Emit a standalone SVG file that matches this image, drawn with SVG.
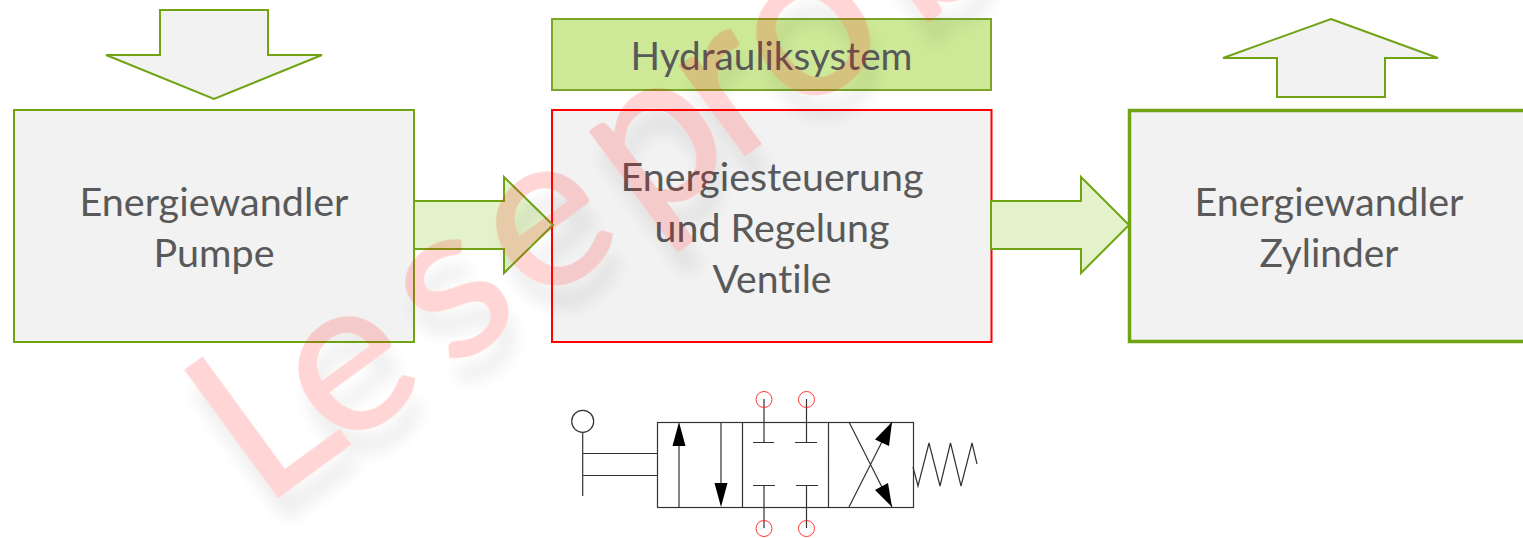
<svg xmlns="http://www.w3.org/2000/svg" width="1523" height="538" viewBox="0 0 1523 538">
<style>
.box{fill:#f2f2f2;stroke:#70a414;stroke-width:2}
.arrow{fill:#f2f2f2;stroke:#70a414;stroke-width:2}
.flow{fill:#e3f2c9;stroke:#70a414;stroke-width:2}
.t{font-family:Lato,"Open Sans","Liberation Sans",sans-serif;font-size:38px;fill:#595959;text-anchor:middle;font-variant-ligatures:none}
.l{fill:none;stroke:#333;stroke-width:1.2}
.p{fill:none;stroke:#f33;stroke-width:1}
.h{fill:#000}
</style>
<defs><filter id="sh" x="-10%" y="-30%" width="120%" height="170%"><feDropShadow dx="-8" dy="24" stdDeviation="8" flood-color="#000" flood-opacity=".4"/></filter></defs>
<g id="input-arrow"><polygon class="arrow" points="160,10 268,10 268,55 322,55 214,99 106,55 160,55"/></g>
<g id="output-arrow"><polygon class="arrow" points="1331,19 1438,58 1385,58 1385,97 1277,97 1277,58 1223,58"/></g>
<g id="pumpe"><rect class="box" x="14" y="110" width="400" height="232"/>
<text class="t" x="214" y="216" textLength="269" lengthAdjust="spacingAndGlyphs">Energiewandler</text>
<text class="t" x="214" y="267" textLength="121" lengthAdjust="spacingAndGlyphs">Pumpe</text></g>
<g id="hydrauliksystem"><rect x="552" y="19" width="439" height="71" fill="#cde997" stroke="#7aa62a" stroke-width="2"/>
<text class="t" x="771.500" y="70" textLength="282" lengthAdjust="spacingAndGlyphs">Hydrauliksystem</text></g>
<g id="ventile"><rect x="552" y="110" width="439.500" height="232" fill="#f2f2f2" stroke="#f00" stroke-width="2"/>
<text class="t" x="772" y="191" textLength="303" lengthAdjust="spacingAndGlyphs">Energiesteuerung</text>
<text class="t" x="772" y="242" textLength="235" lengthAdjust="spacingAndGlyphs">und Regelung</text>
<text class="t" x="772" y="293" textLength="119" lengthAdjust="spacingAndGlyphs">Ventile</text></g>
<g id="zylinder"><rect x="1129.500" y="110.500" width="400" height="231" fill="#f2f2f2" stroke="#70a414" stroke-width="3.500"/>
<text class="t" x="1329" y="216" textLength="269" lengthAdjust="spacingAndGlyphs">Energiewandler</text>
<text class="t" x="1329" y="267" textLength="139" lengthAdjust="spacingAndGlyphs">Zylinder</text></g>
<g id="connectors">
<polygon class="flow" points="414,201 504,201 504,177 553,225 504,273 504,249 414,249"/>
<polygon class="flow" points="991,201 1081,201 1081,177 1129,225 1081,273 1081,249 991,249"/>
</g>
<g id="valve">
<rect class="l" x="657.500" y="422.500" width="256" height="85"/>
<path class="l" d="M742.500 422V507M828.500 422V507M679 446V507M721 422V483M764 399V442M753 442.500H774M806.500 399V442M795 442.500H817M764 486V528M753 485.500H775M806.500 486V528M796 485.500H818M849 422L892 507M849 507L892 422"/>
<polygon class="h" points="679,422 672.500,446 685.500,446"/>
<polygon class="h" points="721,507 714.500,483 727.500,483"/>
<polygon class="h" points="892,422 875,439.500 889,446"/>
<polygon class="h" points="892,507 875,490 888,483"/>
<polyline class="l" stroke-width="1" points="913,467 918,486 929,443 940,486 950.500,443 961,486 972,443 977,464"/>
<circle class="l" cx="582.700" cy="421.300" r="11"/>
<path class="l" d="M582.700 432V496M583 453.500H657M583 475.500H657"/>
<circle class="p" cx="764" cy="399.500" r="8"/><circle class="p" cx="806.500" cy="399.500" r="8"/>
<circle class="p" cx="764" cy="528.500" r="8"/><circle class="p" cx="806.500" cy="528.500" r="8"/>
</g>
<text transform="translate(262 509) rotate(-36.200)" x="0 94 234 339 472 583 661 810" y="0" opacity=".16" filter="url(#sh)" font-family="Lato,'Open Sans',sans-serif" font-size="220" fill="#f00" stroke="#f00" stroke-width="1.500" stroke-linejoin="round">Leseprob</text>
</svg>
